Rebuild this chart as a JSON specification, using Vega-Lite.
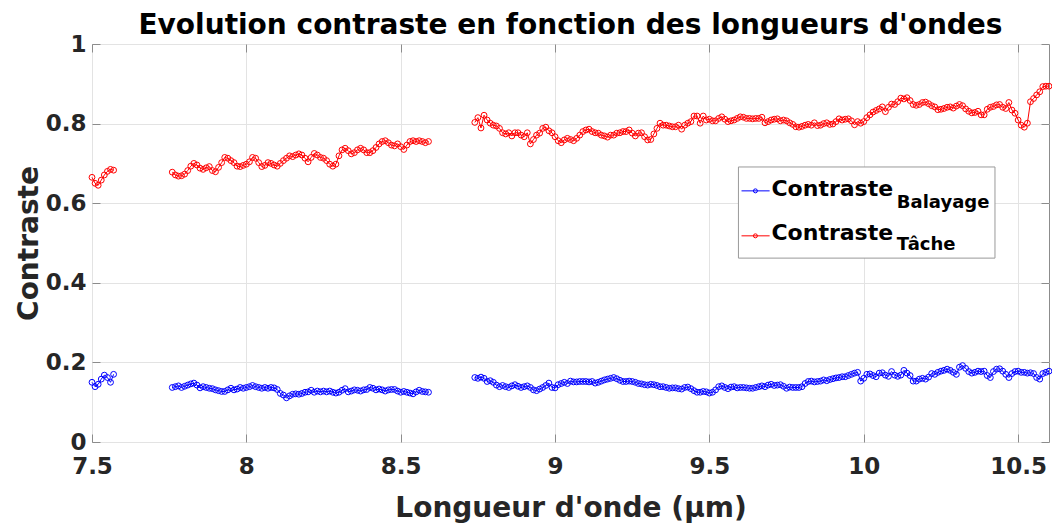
{
"$schema":"https://vega.github.io/schema/vega-lite/v6.json",
"width":957,"height":398,
"autosize":{"type":"none"},
"padding":{"left":92,"top":44,"right":3,"bottom":86},
"background":"white",
"config":{"view":{"stroke":"#8c8c8c","strokeWidth":1},"font":"DejaVu Sans"},
"title":{"text":"Evolution contraste en fonction des longueurs d'ondes","font":"DejaVu Sans","fontSize":28,"fontWeight":"bold","color":"#000000","anchor":"middle","offset":8,"dy":15},
"datasets":{"d":[
{"x":7.50,"b":0.150,"t":0.665,"g":1},{"x":7.51,"b":0.139,"t":0.650,"g":1},{"x":7.52,"b":0.145,"t":0.645,"g":1},{"x":7.53,"b":0.158,"t":0.658,"g":1},{"x":7.54,"b":0.168,"t":0.671,"g":1},{"x":7.55,"b":0.162,"t":0.680,"g":1},{"x":7.56,"b":0.150,"t":0.685,"g":1},{"x":7.57,"b":0.170,"t":0.683,"g":1},
{"x":7.76,"b":0.137,"t":0.678,"g":2},{"x":7.77,"b":0.139,"t":0.671,"g":2},{"x":7.78,"b":0.141,"t":0.668,"g":2},{"x":7.79,"b":0.137,"t":0.669,"g":2},{"x":7.80,"b":0.140,"t":0.673,"g":2},{"x":7.81,"b":0.143,"t":0.682,"g":2},{"x":7.82,"b":0.146,"t":0.693,"g":2},{"x":7.83,"b":0.148,"t":0.700,"g":2},{"x":7.84,"b":0.143,"t":0.696,"g":2},{"x":7.85,"b":0.136,"t":0.688,"g":2},
{"x":7.86,"b":0.139,"t":0.685,"g":2},{"x":7.87,"b":0.137,"t":0.689,"g":2},{"x":7.88,"b":0.135,"t":0.692,"g":2},{"x":7.89,"b":0.134,"t":0.682,"g":2},{"x":7.90,"b":0.131,"t":0.679,"g":2},{"x":7.91,"b":0.129,"t":0.690,"g":2},{"x":7.92,"b":0.127,"t":0.702,"g":2},{"x":7.93,"b":0.127,"t":0.715,"g":2},{"x":7.94,"b":0.131,"t":0.713,"g":2},{"x":7.95,"b":0.135,"t":0.707,"g":2},
{"x":7.96,"b":0.131,"t":0.702,"g":2},{"x":7.97,"b":0.133,"t":0.693,"g":2},{"x":7.98,"b":0.137,"t":0.692,"g":2},{"x":7.99,"b":0.135,"t":0.695,"g":2},{"x":8.00,"b":0.137,"t":0.698,"g":2},{"x":8.01,"b":0.139,"t":0.704,"g":2},{"x":8.02,"b":0.142,"t":0.715,"g":2},{"x":8.03,"b":0.139,"t":0.713,"g":2},{"x":8.04,"b":0.137,"t":0.702,"g":2},{"x":8.05,"b":0.135,"t":0.692,"g":2},
{"x":8.06,"b":0.137,"t":0.695,"g":2},{"x":8.07,"b":0.135,"t":0.702,"g":2},{"x":8.08,"b":0.137,"t":0.700,"g":2},{"x":8.09,"b":0.136,"t":0.696,"g":2},{"x":8.10,"b":0.132,"t":0.693,"g":2},{"x":8.11,"b":0.122,"t":0.700,"g":2},{"x":8.12,"b":0.118,"t":0.707,"g":2},{"x":8.13,"b":0.111,"t":0.713,"g":2},{"x":8.14,"b":0.116,"t":0.719,"g":2},{"x":8.15,"b":0.120,"t":0.717,"g":2},
{"x":8.16,"b":0.121,"t":0.721,"g":2},{"x":8.17,"b":0.120,"t":0.724,"g":2},{"x":8.18,"b":0.122,"t":0.721,"g":2},{"x":8.19,"b":0.125,"t":0.713,"g":2},{"x":8.20,"b":0.126,"t":0.704,"g":2},{"x":8.21,"b":0.130,"t":0.715,"g":2},{"x":8.22,"b":0.125,"t":0.725,"g":2},{"x":8.23,"b":0.128,"t":0.721,"g":2},{"x":8.24,"b":0.126,"t":0.715,"g":2},{"x":8.25,"b":0.128,"t":0.713,"g":2},
{"x":8.26,"b":0.126,"t":0.707,"g":2},{"x":8.27,"b":0.128,"t":0.698,"g":2},{"x":8.28,"b":0.125,"t":0.693,"g":2},{"x":8.29,"b":0.123,"t":0.698,"g":2},{"x":8.30,"b":0.125,"t":0.719,"g":2},{"x":8.31,"b":0.130,"t":0.734,"g":2},{"x":8.32,"b":0.134,"t":0.738,"g":2},{"x":8.33,"b":0.126,"t":0.732,"g":2},{"x":8.34,"b":0.128,"t":0.724,"g":2},{"x":8.35,"b":0.131,"t":0.727,"g":2},
{"x":8.36,"b":0.130,"t":0.734,"g":2},{"x":8.37,"b":0.128,"t":0.738,"g":2},{"x":8.38,"b":0.131,"t":0.734,"g":2},{"x":8.39,"b":0.132,"t":0.727,"g":2},{"x":8.40,"b":0.137,"t":0.727,"g":2},{"x":8.41,"b":0.135,"t":0.732,"g":2},{"x":8.42,"b":0.131,"t":0.740,"g":2},{"x":8.43,"b":0.133,"t":0.749,"g":2},{"x":8.44,"b":0.131,"t":0.755,"g":2},{"x":8.45,"b":0.128,"t":0.757,"g":2},
{"x":8.46,"b":0.131,"t":0.752,"g":2},{"x":8.47,"b":0.132,"t":0.746,"g":2},{"x":8.48,"b":0.132,"t":0.744,"g":2},{"x":8.49,"b":0.128,"t":0.749,"g":2},{"x":8.50,"b":0.125,"t":0.742,"g":2},{"x":8.51,"b":0.127,"t":0.735,"g":2},{"x":8.52,"b":0.125,"t":0.746,"g":2},{"x":8.53,"b":0.123,"t":0.755,"g":2},{"x":8.54,"b":0.121,"t":0.757,"g":2},{"x":8.55,"b":0.126,"t":0.755,"g":2},
{"x":8.56,"b":0.130,"t":0.757,"g":2},{"x":8.57,"b":0.127,"t":0.755,"g":2},{"x":8.58,"b":0.126,"t":0.752,"g":2},{"x":8.59,"b":0.125,"t":0.755,"g":2},
{"x":8.74,"b":0.162,"t":0.803,"g":3},{"x":8.75,"b":0.160,"t":0.815,"g":3},{"x":8.76,"b":0.163,"t":0.789,"g":3},{"x":8.77,"b":0.160,"t":0.821,"g":3},{"x":8.78,"b":0.152,"t":0.809,"g":3},{"x":8.79,"b":0.154,"t":0.801,"g":3},{"x":8.80,"b":0.150,"t":0.796,"g":3},{"x":8.81,"b":0.143,"t":0.794,"g":3},{"x":8.82,"b":0.139,"t":0.788,"g":3},{"x":8.83,"b":0.142,"t":0.777,"g":3},
{"x":8.84,"b":0.139,"t":0.774,"g":3},{"x":8.85,"b":0.137,"t":0.777,"g":3},{"x":8.86,"b":0.141,"t":0.769,"g":3},{"x":8.87,"b":0.144,"t":0.777,"g":3},{"x":8.88,"b":0.140,"t":0.777,"g":3},{"x":8.89,"b":0.137,"t":0.771,"g":3},{"x":8.90,"b":0.139,"t":0.767,"g":3},{"x":8.91,"b":0.141,"t":0.777,"g":3},{"x":8.92,"b":0.137,"t":0.749,"g":3},{"x":8.93,"b":0.131,"t":0.760,"g":3},
{"x":8.94,"b":0.129,"t":0.771,"g":3},{"x":8.95,"b":0.133,"t":0.776,"g":3},{"x":8.96,"b":0.137,"t":0.788,"g":3},{"x":8.97,"b":0.142,"t":0.791,"g":3},{"x":8.98,"b":0.148,"t":0.782,"g":3},{"x":8.99,"b":0.137,"t":0.777,"g":3},{"x":9.00,"b":0.136,"t":0.767,"g":3},{"x":9.01,"b":0.144,"t":0.757,"g":3},{"x":9.02,"b":0.147,"t":0.752,"g":3},{"x":9.03,"b":0.150,"t":0.759,"g":3},
{"x":9.04,"b":0.147,"t":0.763,"g":3},{"x":9.05,"b":0.153,"t":0.760,"g":3},{"x":9.06,"b":0.151,"t":0.757,"g":3},{"x":9.07,"b":0.151,"t":0.763,"g":3},{"x":9.08,"b":0.152,"t":0.771,"g":3},{"x":9.09,"b":0.152,"t":0.780,"g":3},{"x":9.10,"b":0.152,"t":0.784,"g":3},{"x":9.11,"b":0.151,"t":0.786,"g":3},{"x":9.12,"b":0.152,"t":0.780,"g":3},{"x":9.13,"b":0.148,"t":0.777,"g":3},
{"x":9.14,"b":0.150,"t":0.776,"g":3},{"x":9.15,"b":0.153,"t":0.771,"g":3},{"x":9.16,"b":0.156,"t":0.769,"g":3},{"x":9.17,"b":0.158,"t":0.766,"g":3},{"x":9.18,"b":0.160,"t":0.771,"g":3},{"x":9.19,"b":0.162,"t":0.771,"g":3},{"x":9.20,"b":0.159,"t":0.776,"g":3},{"x":9.21,"b":0.155,"t":0.777,"g":3},{"x":9.22,"b":0.152,"t":0.780,"g":3},{"x":9.23,"b":0.152,"t":0.780,"g":3},
{"x":9.24,"b":0.153,"t":0.784,"g":3},{"x":9.25,"b":0.152,"t":0.776,"g":3},{"x":9.26,"b":0.150,"t":0.769,"g":3},{"x":9.27,"b":0.147,"t":0.776,"g":3},{"x":9.28,"b":0.146,"t":0.777,"g":3},{"x":9.29,"b":0.144,"t":0.767,"g":3},{"x":9.30,"b":0.143,"t":0.759,"g":3},{"x":9.31,"b":0.145,"t":0.760,"g":3},{"x":9.32,"b":0.144,"t":0.774,"g":3},{"x":9.33,"b":0.142,"t":0.788,"g":3},
{"x":9.34,"b":0.139,"t":0.801,"g":3},{"x":9.35,"b":0.139,"t":0.796,"g":3},{"x":9.36,"b":0.137,"t":0.796,"g":3},{"x":9.37,"b":0.135,"t":0.794,"g":3},{"x":9.38,"b":0.136,"t":0.792,"g":3},{"x":9.39,"b":0.136,"t":0.792,"g":3},{"x":9.40,"b":0.134,"t":0.796,"g":3},{"x":9.41,"b":0.133,"t":0.786,"g":3},{"x":9.42,"b":0.137,"t":0.796,"g":3},{"x":9.43,"b":0.138,"t":0.801,"g":3},
{"x":9.44,"b":0.134,"t":0.805,"g":3},{"x":9.45,"b":0.129,"t":0.819,"g":3},{"x":9.46,"b":0.125,"t":0.819,"g":3},{"x":9.47,"b":0.125,"t":0.801,"g":3},{"x":9.48,"b":0.127,"t":0.819,"g":3},{"x":9.49,"b":0.126,"t":0.809,"g":3},{"x":9.50,"b":0.123,"t":0.811,"g":3},{"x":9.51,"b":0.125,"t":0.807,"g":3},{"x":9.52,"b":0.131,"t":0.807,"g":3},{"x":9.53,"b":0.139,"t":0.813,"g":3},
{"x":9.54,"b":0.141,"t":0.817,"g":3},{"x":9.55,"b":0.137,"t":0.811,"g":3},{"x":9.56,"b":0.134,"t":0.805,"g":3},{"x":9.57,"b":0.138,"t":0.807,"g":3},{"x":9.58,"b":0.139,"t":0.809,"g":3},{"x":9.59,"b":0.136,"t":0.813,"g":3},{"x":9.60,"b":0.137,"t":0.817,"g":3},{"x":9.61,"b":0.137,"t":0.816,"g":3},{"x":9.62,"b":0.136,"t":0.813,"g":3},{"x":9.63,"b":0.135,"t":0.813,"g":3},
{"x":9.64,"b":0.135,"t":0.812,"g":3},{"x":9.65,"b":0.137,"t":0.813,"g":3},{"x":9.66,"b":0.139,"t":0.813,"g":3},{"x":9.67,"b":0.141,"t":0.816,"g":3},{"x":9.68,"b":0.139,"t":0.802,"g":3},{"x":9.69,"b":0.143,"t":0.805,"g":3},{"x":9.70,"b":0.145,"t":0.809,"g":3},{"x":9.71,"b":0.142,"t":0.811,"g":3},{"x":9.72,"b":0.143,"t":0.812,"g":3},{"x":9.73,"b":0.144,"t":0.807,"g":3},
{"x":9.74,"b":0.140,"t":0.809,"g":3},{"x":9.75,"b":0.135,"t":0.807,"g":3},{"x":9.76,"b":0.138,"t":0.802,"g":3},{"x":9.77,"b":0.137,"t":0.798,"g":3},{"x":9.78,"b":0.137,"t":0.792,"g":3},{"x":9.79,"b":0.137,"t":0.791,"g":3},{"x":9.80,"b":0.139,"t":0.793,"g":3},{"x":9.81,"b":0.147,"t":0.796,"g":3},{"x":9.82,"b":0.152,"t":0.798,"g":3},{"x":9.83,"b":0.153,"t":0.796,"g":3},
{"x":9.84,"b":0.151,"t":0.802,"g":3},{"x":9.85,"b":0.152,"t":0.795,"g":3},{"x":9.86,"b":0.153,"t":0.796,"g":3},{"x":9.87,"b":0.156,"t":0.800,"g":3},{"x":9.88,"b":0.154,"t":0.802,"g":3},{"x":9.89,"b":0.157,"t":0.798,"g":3},{"x":9.90,"b":0.159,"t":0.799,"g":3},{"x":9.91,"b":0.161,"t":0.805,"g":3},{"x":9.92,"b":0.162,"t":0.812,"g":3},{"x":9.93,"b":0.164,"t":0.809,"g":3},
{"x":9.94,"b":0.164,"t":0.811,"g":3},{"x":9.95,"b":0.167,"t":0.812,"g":3},{"x":9.96,"b":0.170,"t":0.807,"g":3},{"x":9.97,"b":0.173,"t":0.797,"g":3},{"x":9.98,"b":0.175,"t":0.805,"g":3},{"x":9.99,"b":0.153,"t":0.801,"g":3},{"x":10.00,"b":0.160,"t":0.805,"g":3},{"x":10.01,"b":0.170,"t":0.815,"g":3},{"x":10.02,"b":0.171,"t":0.822,"g":3},{"x":10.03,"b":0.167,"t":0.829,"g":3},
{"x":10.04,"b":0.164,"t":0.833,"g":3},{"x":10.05,"b":0.173,"t":0.837,"g":3},{"x":10.06,"b":0.174,"t":0.842,"g":3},{"x":10.07,"b":0.168,"t":0.830,"g":3},{"x":10.08,"b":0.165,"t":0.841,"g":3},{"x":10.09,"b":0.177,"t":0.849,"g":3},{"x":10.10,"b":0.168,"t":0.848,"g":3},{"x":10.11,"b":0.165,"t":0.855,"g":3},{"x":10.12,"b":0.168,"t":0.864,"g":3},{"x":10.13,"b":0.180,"t":0.862,"g":3},
{"x":10.14,"b":0.173,"t":0.865,"g":3},{"x":10.15,"b":0.167,"t":0.858,"g":3},{"x":10.16,"b":0.153,"t":0.848,"g":3},{"x":10.17,"b":0.153,"t":0.846,"g":3},{"x":10.18,"b":0.158,"t":0.848,"g":3},{"x":10.19,"b":0.160,"t":0.853,"g":3},{"x":10.20,"b":0.158,"t":0.854,"g":3},{"x":10.21,"b":0.163,"t":0.850,"g":3},{"x":10.22,"b":0.172,"t":0.845,"g":3},{"x":10.23,"b":0.170,"t":0.842,"g":3},
{"x":10.24,"b":0.175,"t":0.835,"g":3},{"x":10.25,"b":0.178,"t":0.836,"g":3},{"x":10.26,"b":0.180,"t":0.838,"g":3},{"x":10.27,"b":0.183,"t":0.841,"g":3},{"x":10.28,"b":0.180,"t":0.842,"g":3},{"x":10.29,"b":0.175,"t":0.839,"g":3},{"x":10.30,"b":0.170,"t":0.844,"g":3},{"x":10.31,"b":0.188,"t":0.848,"g":3},{"x":10.32,"b":0.192,"t":0.845,"g":3},{"x":10.33,"b":0.185,"t":0.837,"g":3},
{"x":10.34,"b":0.177,"t":0.831,"g":3},{"x":10.35,"b":0.173,"t":0.827,"g":3},{"x":10.36,"b":0.175,"t":0.828,"g":3},{"x":10.37,"b":0.178,"t":0.831,"g":3},{"x":10.38,"b":0.177,"t":0.822,"g":3},{"x":10.39,"b":0.178,"t":0.822,"g":3},{"x":10.40,"b":0.167,"t":0.836,"g":3},{"x":10.41,"b":0.162,"t":0.841,"g":3},{"x":10.42,"b":0.177,"t":0.843,"g":3},{"x":10.43,"b":0.183,"t":0.847,"g":3},
{"x":10.44,"b":0.184,"t":0.848,"g":3},{"x":10.45,"b":0.178,"t":0.841,"g":3},{"x":10.46,"b":0.170,"t":0.838,"g":3},{"x":10.47,"b":0.162,"t":0.853,"g":3},{"x":10.48,"b":0.172,"t":0.834,"g":3},{"x":10.49,"b":0.177,"t":0.826,"g":3},{"x":10.50,"b":0.178,"t":0.809,"g":3},{"x":10.51,"b":0.175,"t":0.796,"g":3},{"x":10.52,"b":0.175,"t":0.791,"g":3},{"x":10.53,"b":0.173,"t":0.801,"g":3},
{"x":10.54,"b":0.174,"t":0.855,"g":3},{"x":10.55,"b":0.172,"t":0.863,"g":3},{"x":10.56,"b":0.162,"t":0.872,"g":3},{"x":10.57,"b":0.158,"t":0.880,"g":3},{"x":10.58,"b":0.172,"t":0.893,"g":3},{"x":10.59,"b":0.175,"t":0.894,"g":3},{"x":10.60,"b":0.178,"t":0.894,"g":3}
]},
"resolve":{"axis":{"x":"independent","y":"independent"}},
"layer":[
{"data":{"name":"d"},
 "transform":[{"fold":["b","t"],"as":["s","v"]}],
 "encoding":{
  "x":{"field":"x","type":"quantitative","scale":{"domain":[7.5,10.6],"nice":false,"zero":false},
   "axis":{"values":[7.5,8,8.5,9,9.5,10,10.5],"format":"~g","labelFlush":false,"labelOverlap":false,"domain":false,"grid":true,"gridColor":"#e3e3e3","gridWidth":1,"tickSize":-8,"tickColor":"#8c8c8c","labelPadding":21,"labelFont":"DejaVu Sans","labelFontSize":23,"labelFontWeight":"bold","labelColor":"#262626","title":"Longueur d'onde (µm)","titleFont":"DejaVu Sans","titleFontSize":28,"titleFontWeight":"bold","titleColor":"#262626","titlePadding":16}},
  "y":{"field":"v","type":"quantitative","scale":{"domain":[0,1],"nice":false,"zero":false},
   "axis":{"values":[0,0.2,0.4,0.6,0.8,1],"format":"~g","labelFlush":false,"labelOverlap":false,"domain":false,"grid":true,"gridColor":"#e3e3e3","gridWidth":1,"tickSize":-8,"tickColor":"#8c8c8c","labelPadding":14,"labelFont":"DejaVu Sans","labelFontSize":23,"labelFontWeight":"bold","labelColor":"#262626","title":"Contraste","titleFont":"DejaVu Sans","titleFontSize":28,"titleFontWeight":"bold","titleColor":"#262626","titlePadding":2}},
  "color":{"field":"s","type":"nominal","scale":{"domain":["b","t"],"range":["#0000ff","#ff0000"]},"legend":null},
  "detail":{"field":"g","type":"nominal"}},
 "layer":[
  {"mark":{"type":"line","strokeWidth":1}},
  {"mark":{"type":"point","filled":false,"size":34,"strokeWidth":1,"opacity":1}}
 ]},
{"data":{"values":[{}]},
 "mark":{"type":"point","opacity":0},
 "encoding":{
  "x":{"datum":7.5,"type":"quantitative","axis":{"orient":"top","values":[7.5,8,8.5,9,9.5,10,10.5],"labels":false,"title":null,"grid":false,"domain":false,"tickSize":-8,"tickColor":"#8c8c8c"}},
  "y":{"datum":0,"type":"quantitative","axis":{"orient":"right","values":[0,0.2,0.4,0.6,0.8,1],"labels":false,"title":null,"grid":false,"domain":false,"tickSize":-8,"tickColor":"#8c8c8c"}}}},
{"data":{"values":[{}]},
 "mark":{"type":"rect","fill":"white","stroke":"#999999","strokeWidth":1},
 "encoding":{"x":{"datum":9.594,"type":"quantitative","axis":null},"x2":{"datum":10.425},"y":{"datum":0.462,"type":"quantitative","axis":null},"y2":{"datum":0.691}}},
{"data":{"values":[{}]},
 "mark":{"type":"rule","color":"#0000ff","strokeWidth":1},
 "encoding":{"x":{"datum":9.604,"type":"quantitative","axis":null},"x2":{"datum":9.695},"y":{"datum":0.631,"type":"quantitative","axis":null}}},
{"data":{"values":[{}]},
 "mark":{"type":"rule","color":"#ff0000","strokeWidth":1},
 "encoding":{"x":{"datum":9.604,"type":"quantitative","axis":null},"x2":{"datum":9.695},"y":{"datum":0.518,"type":"quantitative","axis":null}}},
{"data":{"values":[{}]},
 "mark":{"type":"point","filled":false,"color":"#0000ff","size":16,"strokeWidth":1,"opacity":1},
 "encoding":{"x":{"datum":9.649,"type":"quantitative","axis":null},"y":{"datum":0.631,"type":"quantitative","axis":null}}},
{"data":{"values":[{}]},
 "mark":{"type":"point","filled":false,"color":"#ff0000","size":16,"strokeWidth":1,"opacity":1},
 "encoding":{"x":{"datum":9.649,"type":"quantitative","axis":null},"y":{"datum":0.518,"type":"quantitative","axis":null}}},
{"data":{"values":[{}]},
 "mark":{"type":"text","text":"Contraste","align":"left","baseline":"alphabetic","font":"DejaVu Sans","fontSize":22,"fontWeight":"bold","color":"#000000"},
 "encoding":{"x":{"datum":9.701,"type":"quantitative","axis":null},"y":{"datum":0.619,"type":"quantitative","axis":null}}},
{"data":{"values":[{}]},
 "mark":{"type":"text","text":"Balayage","align":"left","baseline":"alphabetic","font":"DejaVu Sans","fontSize":18,"fontWeight":"bold","color":"#000000"},
 "encoding":{"x":{"datum":10.107,"type":"quantitative","axis":null},"y":{"datum":0.588,"type":"quantitative","axis":null}}},
{"data":{"values":[{}]},
 "mark":{"type":"text","text":"Contraste","align":"left","baseline":"alphabetic","font":"DejaVu Sans","fontSize":22,"fontWeight":"bold","color":"#000000"},
 "encoding":{"x":{"datum":9.701,"type":"quantitative","axis":null},"y":{"datum":0.508,"type":"quantitative","axis":null}}},
{"data":{"values":[{}]},
 "mark":{"type":"text","text":"Tâche","align":"left","baseline":"alphabetic","font":"DejaVu Sans","fontSize":18,"fontWeight":"bold","color":"#000000"},
 "encoding":{"x":{"datum":10.107,"type":"quantitative","axis":null},"y":{"datum":0.482,"type":"quantitative","axis":null}}}
]
}
